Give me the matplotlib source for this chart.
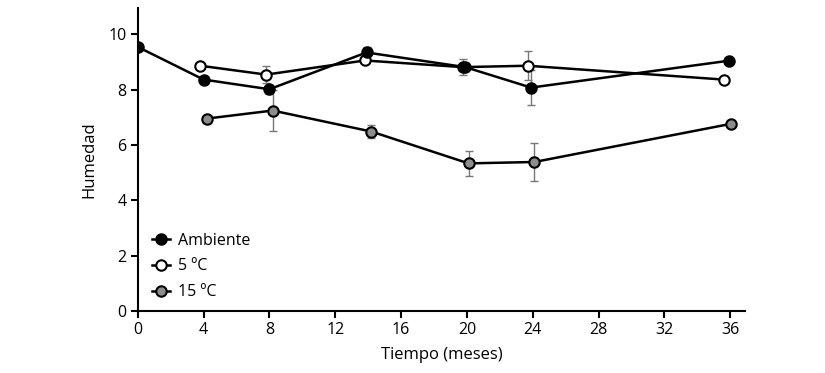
import matplotlib
matplotlib.use("Agg")
import matplotlib.pyplot as plt
import numpy as np

plt.rcParams['font.family'] = ['Open Sans', 'DejaVu Sans']

# Data (x positions include the small horizontal dodge seen in the original)
amb_x = [0, 4.0, 8.0, 13.9, 19.9, 23.9, 35.9]
amb_y = [9.55, 8.37, 8.02, 9.35, 8.82, 8.08, 9.05]
amb_err = [0, 0, 0.17, 0.2, 0.15, 0.63, 0]

c5_x = [3.8, 7.8, 13.8, 19.75, 23.7, 35.6]
c5_y = [8.87, 8.55, 9.06, 8.82, 8.87, 8.37]
c5_err = [0, 0.3, 0, 0.28, 0.53, 0]

c15_x = [4.2, 8.2, 14.2, 20.1, 24.1, 36.05]
c15_y = [6.96, 7.25, 6.49, 5.34, 5.39, 6.77]
c15_err = [0, 0.75, 0.25, 0.45, 0.67, 0]

labels = ['Ambiente', '5 ºC', '15 ºC']
xticks = [0, 4, 8, 12, 16, 20, 24, 28, 32, 36]
yticks = [0, 2, 4, 6, 8, 10]

fig = plt.figure(figsize=(8.25, 3.73), dpi=100)
ax = fig.add_axes([0.167, 0.166, 0.736, 0.812])

err_kw = dict(ecolor='#777777', elinewidth=1.0, capsize=3, capthick=1.0, zorder=1)
line_kw = dict(color='black', lw=1.8, marker='o', ms=7.5, mec='black', mew=1.5)

def series(x, y, e, face):
    e = np.array(e, dtype=float)
    mask = e > 0
    ax.errorbar(np.array(x)[mask], np.array(y)[mask], yerr=e[mask], fmt='none', **err_kw)
    h, = ax.plot(x, y, '-', mfc=face, zorder=3, **line_kw)
    return h

h3 = series(c15_x, c15_y, c15_err, '#8c8c8c')
h2 = series(c5_x, c5_y, c5_err, 'white')
h1 = series(amb_x, amb_y, amb_err, 'black')

ax.legend([h1, h2, h3], labels, loc='lower left',
          bbox_to_anchor=(0.0, -0.012), frameon=False, fontsize=11.5,
          handlelength=1.1, handletextpad=0.5, labelspacing=0.62)

ax.set_xlim(0, 36.9)
ax.set_ylim(0, 10.95)
ax.set_xticks(xticks)
ax.set_yticks(yticks)
ax.spines['top'].set_visible(False)
ax.spines['right'].set_visible(False)
for s in ['left', 'bottom']:
    ax.spines[s].set_linewidth(1.5)
ax.tick_params(direction='out', length=5, width=1.5, labelsize=11.5, pad=3)
ax.set_xlabel('Tiempo (meses)', fontsize=12, labelpad=6)
ax.set_ylabel('Humedad', fontsize=12, labelpad=8)

fig.savefig('out.png', dpi=100)
